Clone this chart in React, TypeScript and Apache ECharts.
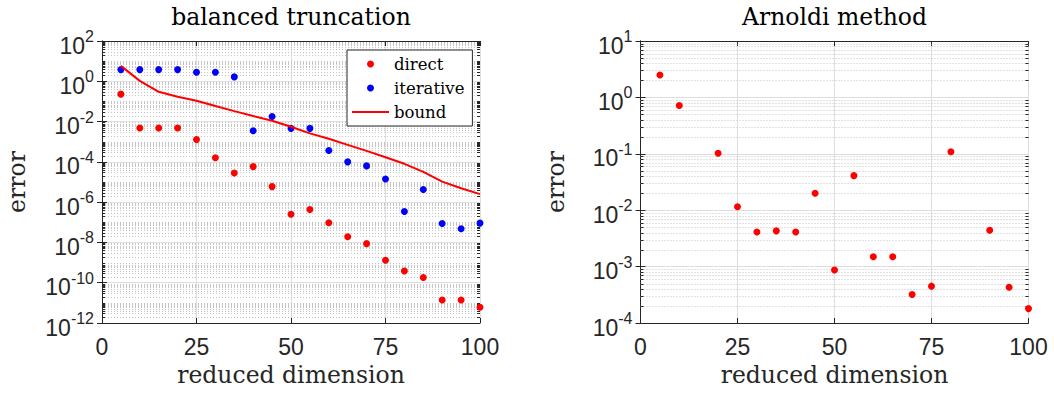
import React, { useEffect, useRef } from 'react';
import * as echarts from 'echarts';

// reduced dimensions
const dims = [5, 10, 15, 20, 25, 30, 35, 40, 45, 50, 55, 60, 65, 70, 75, 80, 85, 90, 95, 100];
// balanced truncation errors
const directErr = [0.23, 0.0048, 0.0048, 0.0048, 0.0013, 1.6e-4, 2.8e-5, 5.8e-5, 5.9e-6, 2.5e-7, 4.3e-7, 9.5e-8, 1.9e-8, 8.7e-9, 1.3e-9, 3.8e-10, 1.8e-10, 1.4e-11, 1.4e-11, 6e-12];
const iterativeErr = [3.8, 3.8, 3.8, 3.8, 2.8, 2.8, 1.65, 0.0035, 0.018, 0.0046, 0.0046, 3.7e-4, 1e-4, 6.3e-5, 1.4e-5, 3.4e-7, 4.2e-6, 8.7e-8, 4.8e-8, 9.1e-8];
const boundErr = [5.8, 1.05, 0.3, 0.17, 0.107, 0.059, 0.033, 0.019, 0.011, 0.0055, 0.0026, 0.0014, 7e-4, 3.5e-4, 1.7e-4, 8e-5, 3.2e-5, 1.05e-5, 4.9e-6, 2.5e-6];
// Arnoldi method errors (missing points are null)
const arnoldiErr: (number | null)[] = [2.5, 0.72, null, 0.102, 0.0115, 0.0041, 0.0043, 0.0041, 0.02, 8.7e-4, 0.041, 0.0015, 0.0015, 3.2e-4, 4.5e-4, 0.109, null, 0.0044, 4.3e-4, 1.8e-4];

// axis ranges (exponents)
const leftExpRange = [-12, 2];
const rightExpRange = [-4, 1];
const xTickStep = 25;

const SERIF = 'DejaVu Serif';
const SANS = 'Liberation Sans';
const AXIS_COLOR = '#262626';

function minorValues(lo: number, hi: number, majorStep: number): number[] {
  const out: number[] = [];
  for (let k = lo; k < hi; k++) {
    for (let m = 1; m <= 9; m++) {
      if (m === 1 && (k - lo) % majorStep === 0) continue;
      out.push(m * Math.pow(10, k));
    }
  }
  return out;
}

const pairs = (ys: (number | null)[]) =>
  dims.map((d, i) => [d, ys[i]] as [number, number | null]).filter((p) => p[1] != null);

function minorGridSeries(idx: number, values: number[]) {
  return {
    type: 'custom',
    xAxisIndex: idx * 2,
    yAxisIndex: idx * 2,
    silent: true,
    z: 1,
    data: values.map((v) => [50, v]),
    renderItem: (params: any, api: any) => {
      const cs = params.coordSys;
      const p = api.coord([50, api.value(1)]);
      const y = Math.round(p[1]) + 0.5;
      return {
        type: 'group',
        children: [
          { type: 'line', shape: { x1: cs.x, y1: y, x2: cs.x + cs.width, y2: y }, style: { stroke: '#c4c4c4', lineWidth: 1, lineDash: [1, 2] } },
          { type: 'line', shape: { x1: cs.x, y1: y, x2: cs.x + 3, y2: y }, style: { stroke: AXIS_COLOR, lineWidth: 1 } },
          { type: 'line', shape: { x1: cs.x + cs.width - 3, y1: y, x2: cs.x + cs.width, y2: y }, style: { stroke: AXIS_COLOR, lineWidth: 1 } },
        ],
      };
    },
  };
}

const yLabel = {
  margin: 8,
  padding: [9, 0, 0, 0],
  formatter: (v: number) => `{b|10}{s|${Math.round(Math.log10(v))}}`,
  rich: {
    b: { fontSize: 23, fontFamily: SANS, color: AXIS_COLOR, lineHeight: 34 },
    s: { fontSize: 16, fontFamily: SANS, color: AXIS_COLOR, lineHeight: 16, verticalAlign: 'top' },
  },
};

function xAxes(grid: number) {
  const base = {
    type: 'value',
    gridIndex: grid,
    min: 0,
    max: 100,
    interval: xTickStep,
    axisLine: { show: true, lineStyle: { color: AXIS_COLOR, width: 1 } },
    axisTick: { show: true, inside: true, length: 5, lineStyle: { color: AXIS_COLOR } },
  };
  return [
    {
      ...base,
      position: 'bottom',
      axisLabel: { fontSize: 23, fontFamily: SANS, color: AXIS_COLOR, margin: 12 },
      splitLine: { show: true, lineStyle: { color: '#dedede', width: 1 } },
      name: 'reduced dimension',
      nameLocation: 'middle',
      nameGap: 38,
      nameTextStyle: { fontFamily: SERIF, fontSize: 23.5, color: AXIS_COLOR },
    },
    { ...base, position: 'top', axisLabel: { show: false }, splitLine: { show: false } },
  ];
}

function yAxes(grid: number, expRange: number[], logBase: number) {
  const base = {
    type: 'log',
    gridIndex: grid,
    logBase,
    min: Math.pow(10, expRange[0]),
    max: Math.pow(10, expRange[1]),
    splitNumber: (expRange[1] - expRange[0]) / (logBase === 100 ? 2 : 1),
    axisLine: { show: true, lineStyle: { color: AXIS_COLOR, width: 1 } },
    axisTick: { show: true, inside: true, length: 5, lineStyle: { color: AXIS_COLOR } },
  };
  return [
    {
      ...base,
      position: 'left',
      axisLabel: yLabel,
      splitLine: { show: true, lineStyle: { color: '#dedede', width: 1 } },
      name: 'error',
      nameLocation: 'middle',
      nameGap: 73,
      nameTextStyle: { fontFamily: SERIF, fontSize: 23.5, color: AXIS_COLOR },
    },
    { ...base, position: 'right', axisLabel: { show: false }, splitLine: { show: false } },
  ];
}

export default function App() {
  const ref = useRef<HTMLDivElement>(null);
  useEffect(() => {
    if (!ref.current) return;
    const chart = echarts.init(ref.current, undefined, { renderer: 'svg' });
    const option: any = {
      animation: false,
      backgroundColor: '#ffffff',
      grid: [
        { left: 102, top: 41, width: 378, height: 282 },
        { left: 640.5, top: 41, width: 388, height: 282 },
      ],
      xAxis: [...xAxes(0), ...xAxes(1)],
      yAxis: [...yAxes(0, leftExpRange, 100), ...yAxes(1, rightExpRange, 10)],
      graphic: [
        { type: 'text', x: 291, y: 17, style: { text: 'balanced truncation', fontFamily: SERIF, fontSize: 23.5, fill: '#000', textAlign: 'center', textVerticalAlign: 'middle', align: 'center', verticalAlign: 'middle' } },
        { type: 'text', x: 834.5, y: 17, style: { text: 'Arnoldi method', fontFamily: SERIF, fontSize: 23.5, fill: '#000', textAlign: 'center', textVerticalAlign: 'middle', align: 'center', verticalAlign: 'middle' } },
      ],
      legend: {
        data: [
          { name: 'direct', icon: 'circle' },
          { name: 'iterative', icon: 'circle' },
          { name: 'bound', icon: 'path://M0 0H40V2.2H0Z' },
        ],
        orient: 'vertical',
        left: 347,
        top: 50,
        padding: [5, 8, 5, 5],
        itemGap: 6,
        itemWidth: 37,
        itemHeight: 7,
        backgroundColor: '#ffffff',
        borderColor: AXIS_COLOR,
        borderWidth: 1,
        borderRadius: 0,
        selectedMode: false,
        textStyle: { fontFamily: SERIF, fontSize: 16.5, color: '#000', lineHeight: 18 },
        z: 10,
      },
      series: [
        minorGridSeries(0, minorValues(leftExpRange[0], leftExpRange[1], 2)),
        minorGridSeries(1, minorValues(rightExpRange[0], rightExpRange[1], 1)),
        { type: 'scatter', name: 'direct', xAxisIndex: 0, yAxisIndex: 0, data: pairs(directErr), symbolSize: 7, itemStyle: { color: '#ff0000', opacity: 1 }, z: 3 },
        { type: 'scatter', name: 'iterative', xAxisIndex: 0, yAxisIndex: 0, data: pairs(iterativeErr), symbolSize: 7, itemStyle: { color: '#0000ff', opacity: 1 }, z: 3 },
        { type: 'line', name: 'bound', xAxisIndex: 0, yAxisIndex: 0, data: pairs(boundErr), symbol: 'none', showSymbol: false, lineStyle: { color: '#ff0000', width: 2 }, itemStyle: { color: '#ff0000' }, z: 4 },
        { type: 'scatter', name: 'arnoldi', xAxisIndex: 2, yAxisIndex: 2, data: pairs(arnoldiErr), symbolSize: 7, itemStyle: { color: '#ff0000', opacity: 1 }, z: 3 },
      ],
    };
    chart.setOption(option);
    return () => chart.dispose();
  }, []);
  return <div ref={ref} style={{ position: 'absolute', left: 0, top: 0, width: 1054, height: 394 }} />;
}
